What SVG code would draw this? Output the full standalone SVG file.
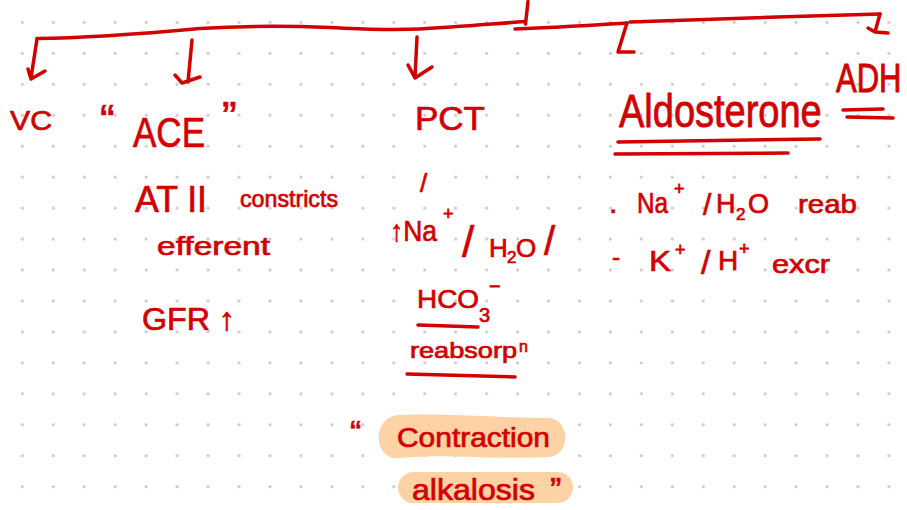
<svg xmlns="http://www.w3.org/2000/svg" width="907" height="510" viewBox="0 0 907 510">
<defs>
<pattern id="dots" patternUnits="userSpaceOnUse" x="6.9" y="6.9" width="30.95" height="30.95">
<circle cx="15.475" cy="15.475" r="1.6" fill="#c9c9c9"/>
</pattern>
<style>
.ink{fill:#d30000;stroke:#d30000;stroke-width:0.7;font-family:"Liberation Sans","DejaVu Sans",sans-serif;}
.ln{fill:none;stroke:#d30000;stroke-width:3.5;stroke-linecap:round;stroke-linejoin:round;}
.hl{fill:#fdd2a4;}
</style>
</defs>
<rect width="907" height="510" fill="#ffffff"/>
<rect width="907" height="510" fill="url(#dots)"/>

<g id="connectors">
<path class="ln" d="M37,38.5 C90,38 140,34 200,28.5 C240,26 290,26 330,27.5 C355,28.5 380,30.5 420,29 C460,27 490,24 525,21.5"/>
<path class="ln" d="M528,1.5 L525.5,24"/>
<path class="ln" d="M515,29 L560,27 C590,25.5 610,24 627,23"/>
<path class="ln" d="M630,22 C700,20 800,16 880,14"/>
<path class="ln" d="M627,23 L618,52 L634,52"/>
<path class="ln" d="M880,14 L875,32 L888,33 M868,28 L875,32"/>
<path class="ln" d="M37,39 L31,78 M28,69 L31,79 L45,71"/>
<path class="ln" d="M192,40 L188,82 M175,75 L182,83 L200,77"/>
<path class="ln" d="M417,37 L415,78 M408,65 L415,78 L432,67"/>
</g>

<g id="vc">
<text class="ink" x="10" y="130" font-size="28" textLength="42" lengthAdjust="spacingAndGlyphs">VC</text>
</g>

<g id="ace">
<text class="ink" x="100" y="136" font-size="44">“</text>
<text class="ink" x="133" y="147" font-size="43" textLength="72" lengthAdjust="spacingAndGlyphs">ACE</text>
<text class="ink" x="222" y="133" font-size="44">”</text>
<text class="ink" x="135" y="212" font-size="37" textLength="72" lengthAdjust="spacingAndGlyphs">AT II</text>
<text class="ink" x="240" y="207" font-size="24" textLength="98" lengthAdjust="spacingAndGlyphs">constricts</text>
<text class="ink" x="157" y="255" font-size="26" textLength="113" lengthAdjust="spacingAndGlyphs">efferent</text>
<text class="ink" x="142" y="330" font-size="32" textLength="93" lengthAdjust="spacingAndGlyphs">GFR ↑</text>
</g>

<g id="pct">
<text class="ink" x="415" y="130" font-size="34" textLength="70" lengthAdjust="spacingAndGlyphs">PCT</text>
<text class="ink" x="420" y="192" font-size="26">/</text>
<text class="ink" font-size="30"><tspan x="390" y="241" textLength="47" lengthAdjust="spacingAndGlyphs">↑Na</tspan><tspan x="443" y="220" font-size="18">+</tspan><tspan x="462" y="257" font-size="44">/</tspan><tspan x="489" y="257" font-size="26">H</tspan><tspan x="507" y="263" font-size="17">2</tspan><tspan x="516" y="257" font-size="26">O</tspan><tspan x="544" y="255" font-size="40">/</tspan></text>
<text class="ink" font-size="26"><tspan x="417" y="308" textLength="62" lengthAdjust="spacingAndGlyphs">HCO</tspan><tspan x="479" y="322" font-size="20">3</tspan><tspan x="489" y="293" font-size="20">−</tspan></text>
<path class="ln" d="M418,325 L478,327"/>
<text class="ink" font-size="22"><tspan x="410" y="358" textLength="107" lengthAdjust="spacingAndGlyphs">reabsorp</tspan><tspan x="519" y="352" font-size="16">n</tspan></text>
<path class="ln" d="M407,374 L515,377"/>
</g>

<g id="contraction-alkalosis">
<path class="hl" d="M399,415 C450,413 500,418 548,418 C570,418 572,456 548,457 C500,460 450,453 399,458 C372,460 372,416 399,415 Z"/>
<rect class="hl" x="398" y="472" width="175" height="31" rx="15.5"/>
<text class="ink" x="350" y="444" font-size="34">“</text>
<text class="ink" x="397" y="447" font-size="27" textLength="153" lengthAdjust="spacingAndGlyphs">Contraction</text>
<text class="ink" x="412" y="500" font-size="29" textLength="123" lengthAdjust="spacingAndGlyphs">alkalosis</text>
<text class="ink" x="550" y="501" font-size="34">”</text>
</g>

<g id="aldosterone">
<text class="ink" transform="translate(619,127) scale(1,1.22)" font-size="38">Aldosterone</text>
<path class="ln" d="M618,142 L820,139 M615,154 L788,153"/>
<text class="ink" font-size="30"><tspan x="609" y="213">.</tspan><tspan x="637" y="213" textLength="31" lengthAdjust="spacingAndGlyphs">Na</tspan><tspan x="674" y="195" font-size="18">+</tspan><tspan x="703" y="215">/</tspan><tspan x="716" y="213" font-size="27">H</tspan><tspan x="736" y="220" font-size="17">2</tspan><tspan x="748" y="213" font-size="27">O</tspan><tspan x="798" y="213" font-size="26" textLength="59" lengthAdjust="spacingAndGlyphs">reab</tspan></text>
<text class="ink" font-size="30"><tspan x="612" y="265" font-size="24">-</tspan><tspan x="649" y="271" textLength="22" lengthAdjust="spacingAndGlyphs">K</tspan><tspan x="675" y="256" font-size="18">+</tspan><tspan x="701" y="274" font-size="34">/</tspan><tspan x="718" y="270" font-size="28">H</tspan><tspan x="739" y="255" font-size="18">+</tspan><tspan x="772" y="273" font-size="26" textLength="58" lengthAdjust="spacingAndGlyphs">excr</tspan></text>
</g>

<g id="adh">
<text class="ink" transform="translate(836,92) scale(1,1.3)" font-size="31">ADH</text>
<path class="ln" d="M843,110 L883,109 M847,117 L893,118"/>
</g>
</svg>
